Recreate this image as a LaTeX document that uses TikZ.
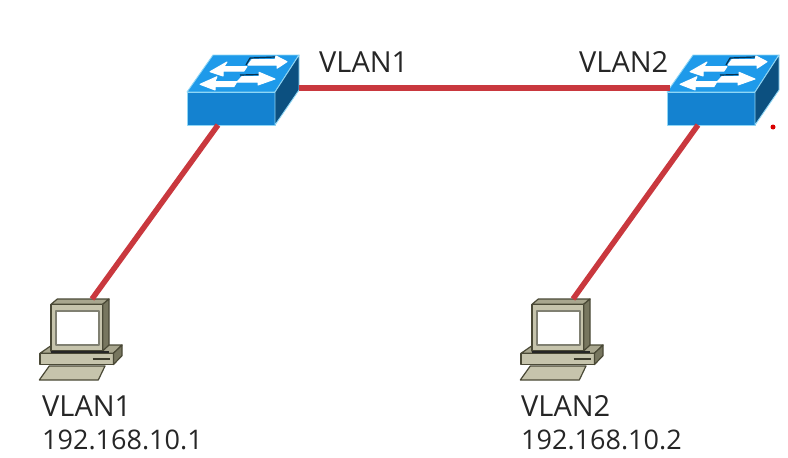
\documentclass[tikz,border=0pt]{standalone}
\usepackage{fontspec}
\setmainfont{Open Sans}
\definecolor{linkred}{HTML}{C9383E}
\definecolor{swtop}{HTML}{1E9AEA}
\definecolor{swfront}{HTML}{1482D0}
\definecolor{swside}{HTML}{0C5080}
\definecolor{swedge}{HTML}{8FD6F5}
\definecolor{pcfront}{HTML}{C6C4AC}
\definecolor{pctop}{HTML}{A8A68E}
\definecolor{pcside}{HTML}{77765F}
\definecolor{pcedge}{HTML}{4A4936}
\tikzset{
  link/.style = {draw=linkred, line width=5.5pt},
  label/.style = {anchor=base west, inner sep=0pt, font=\fontsize{29}{32}\selectfont, text=black!85},
  address/.style = {label, font=\fontsize{27}{32}\selectfont},
  swface/.style = {draw=swedge, line width=0.9pt, line join=round},
  swarrow/.style = {fill=white, draw=white, line width=1pt, line join=round},
  swshade/.style = {draw=swside!60!black, line width=1.2pt},
  pcface/.style = {draw=pcedge, line width=1.2pt, line join=round},
  switch/.pic = {
    \path[swface, fill=swtop] (26,0) -- (112,0) -- (88,37) -- (0,37) -- cycle;
    \path[swface, fill=swfront] (0,37) -- (88,37) -- (88,70) -- (0,70) -- cycle;
    \path[swface, fill=swside] (88,37) -- (112,0) -- (112,35) -- (88,70) -- cycle;
    \draw[swshade] (63,3) -- (88,2) (59,10) -- (63,3);
    \draw[swshade] (53,20) -- (72,19.5);
    \path[swarrow] (89,1) -- (100,6.7) -- (90,13.3) -- (90,10) -- (61,10) -- (65,4.5) -- (88,4.5) -- cycle;
    \path[swarrow] (23,16.7) -- (40,7) -- (37,11.5) -- (60,11.5) -- (57,16) -- (36,16) -- (36,21) -- cycle;
    \path[swarrow] (13,29.3) -- (30,21.7) -- (28,26.5) -- (50,26.5) -- (47,31.5) -- (28,31.5) -- (28,35) -- cycle;
    \path[swarrow] (72,17.3) -- (88,24) -- (71,30) -- (71,27) -- (50,27) -- (55,21.5) -- (72,21.5) -- cycle;
    \coordinate (-bottom) at (31,70);
    \coordinate (-left) at (3,33);
    \coordinate (-right) at (112,33);
  },
  computer/.pic = {
    \path[pcface, fill=pctop] (12,46) -- (82,46) -- (73.5,54.3) -- (0,54.3) -- cycle;
    \path[pcface, fill=pcfront] (0,54.3) -- (73.5,54.3) -- (73.5,65.5) -- (0,65.5) -- cycle;
    \path[pcface, fill=pcside] (73.5,54.3) -- (82,46) -- (82,56.7) -- (73.5,65.5) -- cycle;
    \draw[pcedge!80!black, line width=2pt] (52.5,60) -- (70,60);
    \path[pcface, fill=pcfront] (9.3,67) -- (65,67) -- (58.3,81) -- (-0.7,81) -- cycle;
    \path[pcface, fill=pctop] (11,5.3) -- (17.3,0) -- (69,0) -- (62.7,5.3) -- cycle;
    \path[pcface, fill=pcside] (62.7,5.3) -- (69,0) -- (69,46) -- (62.7,52) -- cycle;
    \path[pcface, fill=pcfront] (11,5.3) -- (62.7,5.3) -- (62.7,52) -- (11,52) -- cycle;
    \path[pcface, draw=pcedge!70, fill=white] (16,12) -- (59,12) -- (59,46) -- (16,46) -- cycle;
    \draw[black!85, line width=2pt] (11,53) -- (69,53);
    \coordinate (-top) at (52,0);
  },
}
\begin{document}
\begin{tikzpicture}[x=1pt, y=-1pt]
  \useasboundingbox (0,0) rectangle (788,458);
  \pic (swA) at (187,55) {switch};
  \pic (swB) at (667,55) {switch};
  \pic (pcA) at (40,299) {computer};
  \pic (pcB) at (521,299) {computer};

  \draw[link] (swA-right) -- (swB-left);
  \draw[link] (swA-bottom) -- (pcA-top);
  \draw[link] (swB-bottom) -- (pcB-top);

  \node[label] (lblSwA) at (319,72) {VLAN1};
  \node[label] (lblSwB) at (579,72) {VLAN2};
  \node[label] (lblPcA) at (42,416) {VLAN1};
  \node[address] (ipPcA) at (42,449) {192.168.10.1};
  \node[label] (lblPcB) at (521,416) {VLAN2};
  \node[address] (ipPcB) at (521,449) {192.168.10.2};

  \fill[red!85!black] (773,127) circle (2.5pt);
\end{tikzpicture}
\end{document}
